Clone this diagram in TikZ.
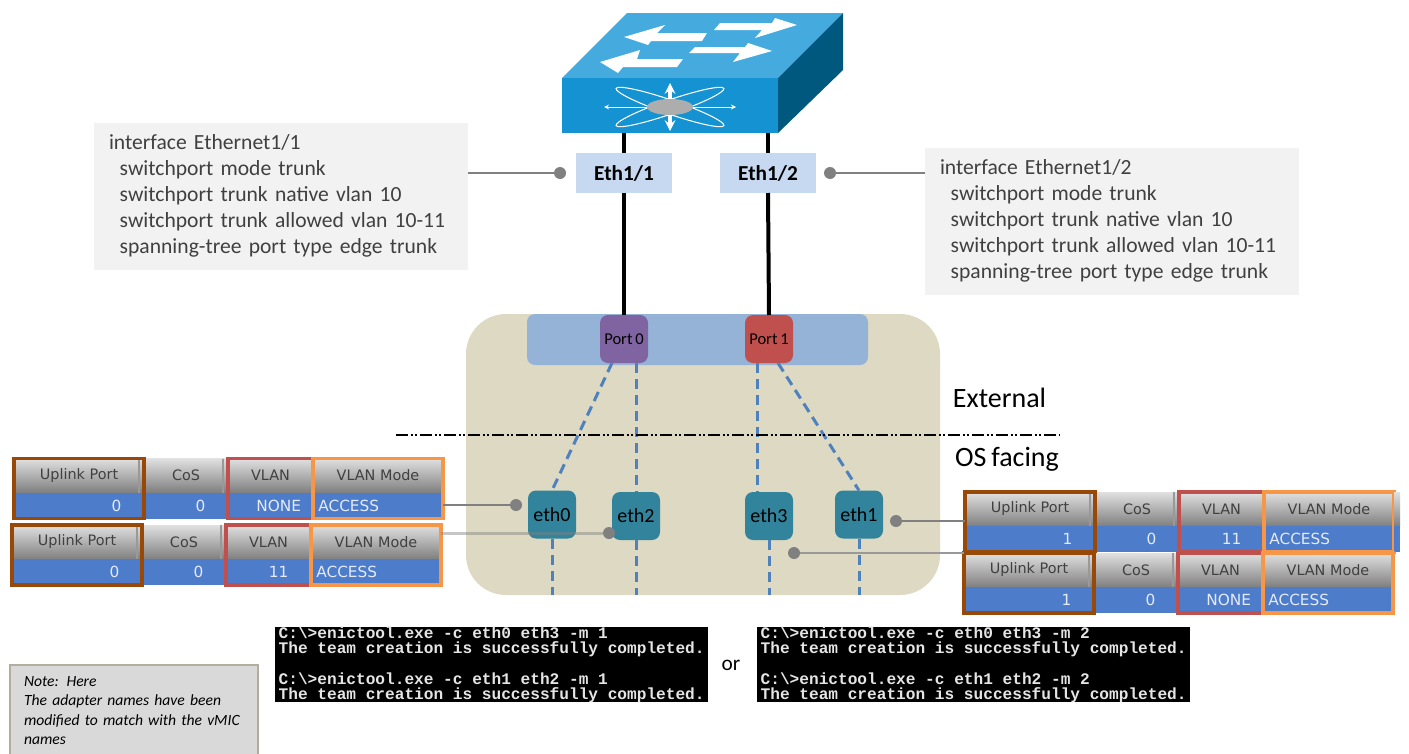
\documentclass[tikz,border=0pt]{standalone}
\usepackage{fontspec}
\setmainfont[WordSpace=0.75]{Carlito}
\setmonofont{Liberation Mono}
\newfontfamily\gridfont{DejaVu Sans}
\usepackage{xcolor}
\usetikzlibrary{arrows,positioning,fit}

\definecolor{swtop}{HTML}{45ABDF}
\definecolor{swfront}{HTML}{1592D2}
\definecolor{swside}{HTML}{00587F}
\definecolor{tanfill}{HTML}{DDD9C3}
\definecolor{barfill}{HTML}{95B3D7}
\definecolor{ethlabel}{HTML}{C6D9F1}
\definecolor{linkblue}{HTML}{4F81BD}
\definecolor{cellblue}{HTML}{4D7CCB}
\definecolor{portviolet}{HTML}{8064A2}
\definecolor{nicteal}{HTML}{31849B}
\definecolor{upbrown}{HTML}{984807}
\definecolor{vlanred}{HTML}{C0504D}
\definecolor{modeorange}{HTML}{F79646}

% one row of the vNIC table: name, x, y, uplink value, vlan value
\newcommand{\vnicrow}[5]{%
    \node[headcell=97.5pt, headrule, anchor=north west] (#1up) at (#2,#3) {Uplink Port};
    \node[headcell=63pt, headrule, right=0pt of #1up] (#1cos) {CoS};
    \node[headcell=63.75pt, right=0pt of #1cos] (#1vlan) {VLAN};
    \node[headcell=97.5pt, right=0pt of #1vlan] (#1mode) {VLAN Mode};
    \node[valcell=89.5pt, align=right, below=0pt of #1up] (#1upval) {#4\hspace*{13pt}};
    \node[valcell=55pt, align=right, below=0pt of #1cos] (#1cosval) {0\hspace*{13pt}};
    \node[valcell=55.75pt, align=right, below=0pt of #1vlan] (#1vlanval) {#5};
    \node[valcell=89.5pt, align=left, below=0pt of #1mode] (#1modeval) {ACCESS};
    \node[cellframe=upbrown, fit=(#1up)(#1upval)] (#1upbox) {};
    \node[cellframe=vlanred, fit=(#1vlan)(#1vlanval)] (#1vlanbox) {};
    \node[cellframe=modeorange, fit=(#1mode)(#1modeval)] (#1modebox) {};
}

\begin{document}
\begin{tikzpicture}[
    x=0.75pt, y=-0.75pt,
    outer sep=0pt,
    ethport/.style={rectangle, fill=ethlabel, minimum width=72pt, minimum height=30pt, font=\fontsize{16}{18}\selectfont\bfseries},
    cfgbox/.style={rectangle, fill=black!5, minimum height=110pt, text width=258pt, inner xsep=11.25pt, align=left, text=black!75, font=\fontsize{16.2}{19.5}\selectfont},
    uplink/.style={rectangle, rounded corners=6pt, minimum size=36pt, inner sep=0pt, font=\fontsize{12.4}{14}\selectfont},
    adapter/.style={rectangle, rounded corners=6pt, fill=nicteal, minimum size=36pt, inner sep=0pt, font=\fontsize{15}{17}\selectfont},
    dot/.style={circle, fill=black!50, minimum size=9pt, inner sep=0pt},
    headcell/.style={rectangle, top color=black!12, bottom color=black!50, minimum width=#1, minimum height=25.5pt, inner sep=0pt, text=black!75, font=\gridfont\fontsize{10.8}{12}\selectfont},
    headrule/.style={path picture={\draw[black!40, line width=1.5pt] ([xshift=-4pt]path picture bounding box.north east) -- ([xshift=-4pt]path picture bounding box.south east);}},
    valcell/.style={rectangle, fill=cellblue, text width=#1, inner xsep=4pt, inner ysep=0pt, minimum height=19.5pt, text=white!85!cellblue, font=\gridfont\fontsize{11.5}{13}\selectfont},
    cellframe/.style={rectangle, draw=#1, line width=2.6pt, inner sep=0pt},
    terminal/.style={rectangle, fill=black, minimum width=325pt, minimum height=56pt, inner sep=0pt, align=left, text=white!90!black, font=\ttfamily\bfseries\fontsize{12.1}{11}\selectfont},
    trunk/.style={line width=3pt, black},
    lead/.style={line width=1.1pt, black!50},
    vnic/.style={line width=2.25pt, linkblue, dash pattern=on 7.5pt off 4.5pt}
]
    \useasboundingbox (0,0) rectangle (1409,753);

    % Switch
    \fill[swtop] (562,78) -- (627,13) -- (843,13) -- (778,78) -- cycle;
    \fill[swside] (778,78) -- (843,13) -- (843,70) -- (778,133) -- cycle;
    \node[rectangle, fill=swfront, minimum width=162pt, minimum height=41.25pt] (switch) at (670,105.5) {};
    \fill[white] (624,37) -- (665,25) -- (657,33) -- (707,33) -- (702,41) -- (651,41) -- (648,45) -- cycle;
    \fill[white] (600,62) -- (640,50) -- (637,59) -- (683,59) -- (677,67) -- (623,67) -- (618,73) -- cycle;
    \fill[white] (797,25) -- (775,18) -- (772,23) -- (720,23) -- (714,30) -- (762,30) -- (755,38) -- cycle;
    \fill[white] (772,51) -- (748,43) -- (745,47) -- (695,47) -- (689,53) -- (740,53) -- (733,62) -- cycle;
    \draw[white, line width=.8pt, rotate around={19:(670,107)}] (670,107) ellipse (57 and 7);
    \draw[white, line width=.8pt, rotate around={-19:(670,107)}] (670,107) ellipse (57 and 7);
    \draw[white, line width=.7pt, <->, >=stealth] (604,107) -- (736,107);
    \draw[white, line width=2.5pt, <->, >=stealth] (670,83) -- (670,131);
    \fill[black!32] (670,107) ellipse (23 and 8);

    % Adapter
    \node[rectangle, rounded corners=30pt, fill=tanfill, minimum width=355.5pt, minimum height=210.75pt] (adapter) at (703,454.5) {};
    \node[rectangle, rounded corners=6pt, fill=barfill, minimum width=255.75pt, minimum height=38.25pt] (bar) at (697.5,339.5) {};
    \node[uplink, fill=portviolet] (port0) at (624,339) {Port 0};
    \node[uplink, fill=vlanred, right=72.75pt of port0] (port1) {Port 1};

    % Switch ports
    \node[ethport] (eth11) at (624,173) {Eth1/1};
    \node[ethport, right=36pt of eth11] (eth12) {Eth1/2};
    \node[cfgbox, anchor=north west] (cfg1) at (94,123) {interface Ethernet1/1\\
        \hspace*{8pt}switchport mode trunk\\
        \hspace*{8pt}switchport trunk native vlan 10\\
        \hspace*{8pt}switchport trunk allowed vlan 10-11\\
        \hspace*{8pt}spanning-tree port type edge trunk};
    \node[cfgbox, anchor=north west] (cfg2) at (925,148) {interface Ethernet1/2\\
        \hspace*{8pt}switchport mode trunk\\
        \hspace*{8pt}switchport trunk native vlan 10\\
        \hspace*{8pt}switchport trunk allowed vlan 10-11\\
        \hspace*{8pt}spanning-tree port type edge trunk};
    \node[dot] (dot11) at (560,173) {};
    \node[dot] (dot12) at (830,173) {};

    % vNICs
    \node[adapter] (eth0) at (552,514.5) {eth0};
    \node[adapter] (eth2) at (636,516) {eth2};
    \node[adapter] (eth3) at (769,516) {eth3};
    \node[adapter] (eth1) at (859,514.5) {eth1};
    \node[dot] (dot0) at (516,505) {};
    \node[dot] (dot2) at (609,533) {};
    \node[dot] (dot3) at (794,553) {};
    \node[dot] (dot1) at (896,521) {};

    % Boundary
    \coordinate (split0) at (396,435);
    \coordinate (split1) at (1060,435);
    \node[font=\fontsize{21}{23}\selectfont] (external) at (999.5,398) {External};
    \node[font=\fontsize{21}{23}\selectfont] (osfacing) at (1007,459) {OS facing};

    % Tables
    \vnicrow{la}{14}{458.5}{0}{NONE\hspace*{5pt}}
    \vnicrow{lb}{12}{525}{0}{11\hspace*{13pt}}
    \vnicrow{ra}{965}{492}{1}{11\hspace*{13pt}}
    \node[headcell=4.5pt, right=0pt of ramode] (raend) {};
    \node[rectangle, fill=cellblue, minimum width=4.5pt, minimum height=19.5pt, inner sep=0pt, right=0pt of ramodeval] (raendval) {};
    \vnicrow{rb}{964}{553}{1}{NONE\hspace*{5pt}}

    % Terminals
    \node[terminal, anchor=north west] (term1) at (275,627) {C:\textbackslash>enictool.exe -c eth0 eth3 -m 1\\
        The team creation is successfully completed.\\[11pt]
        C:\textbackslash>enictool.exe -c eth1 eth2 -m 1\\
        The team creation is successfully completed.};
    \node[terminal, anchor=north west] (term2) at (757,627) {C:\textbackslash>enictool.exe -c eth0 eth3 -m 2\\
        The team creation is successfully completed.\\[11pt]
        C:\textbackslash>enictool.exe -c eth1 eth2 -m 2\\
        The team creation is successfully completed.};
    \node[font=\fontsize{16}{18}\selectfont] (orword) at (731,665) {or};

    % Note
    \node[rectangle, anchor=north west, fill=black!15, draw=tanfill!80!black, line width=1pt, minimum width=186pt, minimum height=68pt, text width=165pt, inner xsep=10.5pt, inner ysep=2pt, align=left, font=\itshape\fontsize{11.7}{14.6}\selectfont] (note) at (10,665) {Note: Here\\The adapter names have been\\modified to match with the vMIC\\names};

    % Links
    \draw[trunk] (eth11 |- switch.south) -- (eth11.north);
    \draw[trunk] (eth12 |- switch.south) -- (eth12.north);
    \draw[trunk] (eth11.south) -- (port0.north);
    \draw[trunk] (eth12.south) -- (port1.north);
    \draw[vnic] ([xshift=-9pt]port0.south) -- (eth0.north);
    \draw[vnic] ([xshift=9pt]port0.south) -- (eth2.north);
    \draw[vnic] ([xshift=-9pt]port1.south) -- ([xshift=-9pt]eth3.north);
    \draw[vnic] ([xshift=6.75pt]port1.south) -- (eth1.north);
    \draw[vnic] (eth0.south) -- (eth0 |- adapter.south);
    \draw[vnic] (eth2.south) -- (eth2 |- adapter.south);
    \draw[vnic] (eth3.south) -- (eth3 |- adapter.south);
    \draw[vnic] (eth1.south) -- (eth1 |- adapter.south);
    \draw[line width=.9pt, dash pattern=on 9pt off 2pt on 1.5pt off 2pt on 1.5pt off 2pt] (split0) -- (split1);

    % Leaders
    \draw[lead] (cfg1.east |- dot11) -- (dot11);
    \draw[lead] (cfg2.west |- dot12) -- (dot12);
    \draw[lead] (lamodebox.east |- dot0) -- (dot0);
    \draw[line width=2.25pt, black!50, opacity=.45] (lbmodebox.east |- dot2) -- (dot2);
    \draw[lead] (raupbox.west |- dot1) -- (dot1);
    \draw[lead, black!40] (rbupbox.west |- dot3) -- (dot3);
\end{tikzpicture}
\end{document}
